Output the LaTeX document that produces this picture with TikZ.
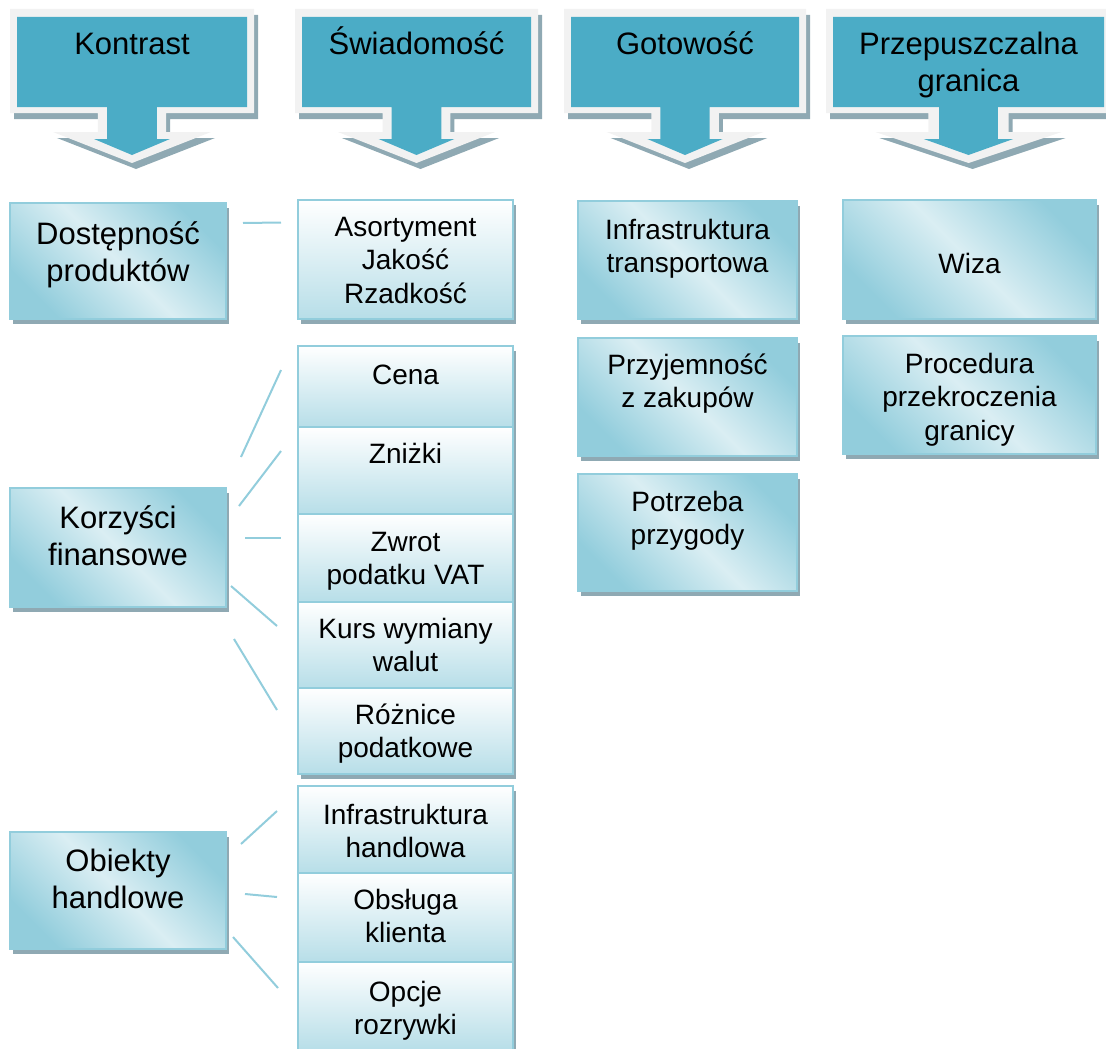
\documentclass[tikz,border=0pt]{standalone}
\usepackage{fontspec}
\setmainfont{Liberation Sans}
\usetikzlibrary{shadows}
\definecolor{headteal}{HTML}{4BACC6}
\definecolor{headrim}{HTML}{F2F2F2}
\definecolor{shadegray}{HTML}{8FA9B3}
\definecolor{aquadark}{HTML}{92CDDC}
\definecolor{aqualight}{HTML}{DAEEF3}
\definecolor{aquamid}{HTML}{B7DEE8}
\tikzset{
  bigtext/.style={font=\fontsize{31}{37}\selectfont},
  smalltext/.style={font=\fontsize{28}{33.5}\selectfont},
  box/.style={draw=aquadark, line width=2pt, inner sep=0pt, align=center, anchor=north,
    general shadow={fill=shadegray, shadow xshift=3pt, shadow yshift=-5pt}},
  diagbox/.style={box, top color=aquadark, bottom color=aquadark, middle color=aqualight, shading angle=-45},
  stackbox/.style={box, top color=white, bottom color=aquamid},
  link/.style={draw=aquadark, line width=2pt},
}
\begin{document}
\begin{tikzpicture}[x=1pt, y=-1pt]
    \useasboundingbox (0,0) rectangle (1106,1049);
    \foreach \l/\r/\b/\n/\t in {17/247/55/kontrast/Kontrast, 302/531/55/swiad/Świadomość,
        571/799/55/gotow/Gotowość, 833/1104/92/granica/{Przepuszczalna\\granica}}{
        \pgfmathsetmacro\c{(\l+\r)/2}
        \pgfmathsetmacro\w{(\r-\l)/2}
        \fill[shadegray, shift={(4,6)}]
            ({\l-7},9) -- ({\r+7},9) -- ({\r+7},113) -- ({\c+0.296*\w},113) -- ({\c+0.296*\w},132)
            -- ({\c+0.687*\w},132) -- (\c,163) -- ({\c-0.687*\w},132) -- ({\c-0.296*\w},132)
            -- ({\c-0.296*\w},113) -- ({\l-7},113) -- cycle;
        \fill[headrim]
            ({\l-7},9) -- ({\r+7},9) -- ({\r+7},113) -- ({\c+0.296*\w},113) -- ({\c+0.296*\w},132)
            -- ({\c+0.687*\w},132) -- (\c,163) -- ({\c-0.687*\w},132) -- ({\c-0.296*\w},132)
            -- ({\c-0.296*\w},113) -- ({\l-7},113) -- cycle;
        \fill[headteal]
            (\l,17) -- (\r,17) -- (\r,107) -- ({\c+0.217*\w},107) -- ({\c+0.217*\w},139)
            -- ({\c+0.33*\w},139) -- (\c,155) -- ({\c-0.33*\w},139) -- ({\c-0.217*\w},139)
            -- ({\c-0.217*\w},107) -- (\l,107) -- cycle;
        \node[bigtext, anchor=base, align=center] (\n) at (\c,\b) {\t};
    }

    \node[diagbox, bigtext, minimum width=216pt, text height=78pt, text depth=38pt] (dost) at (118,202) {Dostępność\\produktów};
    \node[diagbox, bigtext, minimum width=216pt, text height=77pt, text depth=42pt] (korz) at (118,487) {Korzyści\\finansowe};
    \node[diagbox, bigtext, minimum width=216pt, text height=76pt, text depth=41pt] (obie) at (118,831) {Obiekty\\handlowe};

    \node[stackbox, smalltext, minimum width=215pt, text height=103pt, text depth=16pt] (asort) at (405.5,199) {Asortyment\\Jakość\\Rzadkość};
    \node[stackbox, smalltext, minimum width=215pt, text height=38pt, text depth=43pt] (cena) at (405.5,345) {Cena};
    \node[stackbox, smalltext, minimum width=215pt, text height=36pt, text depth=51pt] (znizki) at (405.5,426) {Zniżki};
    \node[stackbox, smalltext, minimum width=215pt, text height=70.5pt, text depth=17.5pt] (zwrot) at (405.5,513) {Zwrot\\podatku VAT};
    \node[stackbox, smalltext, minimum width=215pt, text height=69.5pt, text depth=16.5pt] (kurs) at (405.5,601) {Kurs wymiany\\walut};
    \node[stackbox, smalltext, minimum width=215pt, text height=69.5pt, text depth=16.5pt] (roznice) at (405.5,687) {Różnice\\podatkowe};
    \node[stackbox, smalltext, minimum width=215pt, text height=71.5pt, text depth=15.5pt] (infh) at (405.5,785) {Infrastruktura\\handlowa};
    \node[stackbox, smalltext, minimum width=215pt, text height=69.5pt, text depth=19.5pt] (obsl) at (405.5,872) {Obsługa\\klienta};
    \node[stackbox, smalltext, minimum width=215pt, text height=72.5pt, text depth=15.5pt] (opcje) at (405.5,961) {Opcje\\rozrywki};

    \node[diagbox, smalltext, minimum width=219pt, text height=71.5pt, text depth=46.5pt] (inft) at (687.5,200) {Infrastruktura\\transportowa};
    \node[diagbox, smalltext, minimum width=219pt, text height=69.5pt, text depth=48.5pt] (przy) at (687.5,337) {Przyjemność\\z zakupów};
    \node[diagbox, smalltext, minimum width=219pt, text height=70.5pt, text depth=46.5pt] (potrz) at (687.5,473) {Potrzeba\\przygody};

    \node[diagbox, smalltext, minimum width=253pt, text height=73pt, text depth=46pt] (wiza) at (969.5,199) {Wiza};
    \node[diagbox, smalltext, minimum width=253pt, text height=104pt, text depth=14pt] (proc) at (969.5,335) {Procedura\\przekroczenia\\granicy};

    \draw[link] ([shift={(16,-38)}]dost.east) -- ([shift={(-16,-37)}]asort.west);
    \draw[link] ([shift={(14,-30)}]korz.north east) -- ([shift={(-16,-16.5)}]cena.west);
    \draw[link] ([shift={(12,19)}]korz.north east) -- ([shift={(-16,-19.5)}]znizki.west);
    \draw[link] ([shift={(18,-9.5)}]korz.east) -- ([shift={(-16,-20)}]zwrot.west);
    \draw[link] ([shift={(4,38.5)}]korz.east) -- ([shift={(-20,-19)}]kurs.west);
    \draw[link] ([shift={(7,31)}]korz.south east) -- ([shift={(-20,-21)}]roznice.west);
    \draw[link] ([shift={(14,-46.5)}]obie.east) -- ([shift={(-20,-18.5)}]infh.west);
    \draw[link] ([shift={(18,3.5)}]obie.east) -- ([shift={(-20,-20.5)}]obsl.west);
    \draw[link] ([shift={(6,46.5)}]obie.east) -- ([shift={(-19,-18)}]opcje.west);
\end{tikzpicture}
\end{document}
